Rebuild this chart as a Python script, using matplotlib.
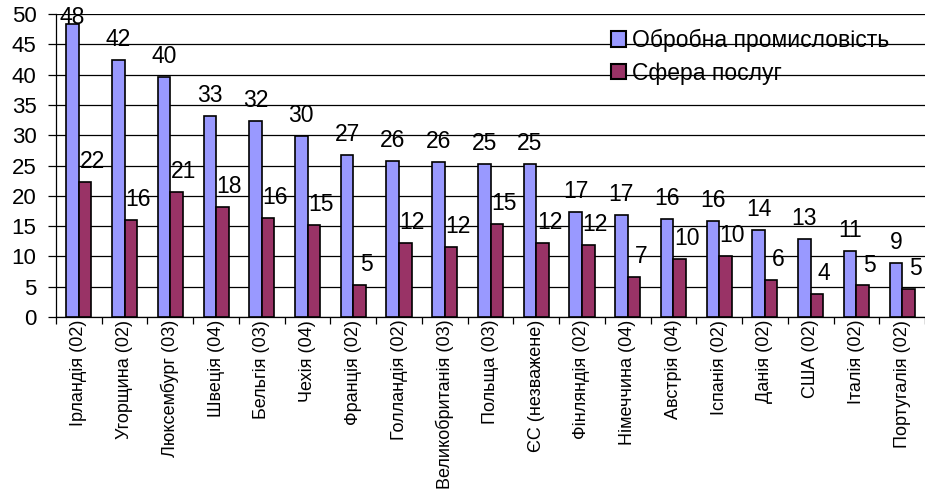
import matplotlib
matplotlib.use("Agg")
import matplotlib.pyplot as plt
from matplotlib.patches import Patch
import numpy as np

plt.rcParams['font.family'] = ['Liberation Sans', 'DejaVu Sans']

countries = ['Ірландія (02)', 'Угорщина (02)', 'Люксембург (03)', 'Швеція (04)',
             'Бельгія (03)', 'Чехія (04)', 'Франція (02)', 'Голландія (02)',
             'Великобританія (03)', 'Польща (03)', 'ЄС (незважене)', 'Фінляндія (02)',
             'Німеччина (04)', 'Австрія (04)', 'Іспанія (02)', 'Данія (02)',
             'США (02)', 'Італія (02)', 'Португалія (02)']
manufacturing = [48.4, 42.4, 39.6, 33.1, 32.4, 29.9, 26.8, 25.7, 25.6, 25.3,
                 25.2, 17.4, 16.9, 16.1, 15.9, 14.4, 12.8, 10.9, 8.9]
services = [22.3, 16.0, 20.7, 18.1, 16.3, 15.2, 5.3, 12.2, 11.6, 15.3,
            12.2, 11.9, 6.6, 9.5, 10.1, 6.1, 3.8, 5.2, 4.7]
series_names = ['Обробна промисловість', 'Сфера послуг']

blue = '#9999ff'
plum = '#993366'

fig = plt.figure(figsize=(9.25, 4.94), dpi=100)
ax = fig.add_axes([56 / 925, 177 / 494, 1 - 56 / 925, 303 / 494])

x = np.arange(len(countries))
w = 0.275
ax.bar(x - w / 2, manufacturing, w, color=blue, edgecolor='black', linewidth=1.2, zorder=3)
ax.bar(x + w / 2, services, w, color=plum, edgecolor='black', linewidth=1.2, zorder=3)

# value labels above bars, kept inside the chart at the top
for i in range(len(countries)):
    for v, dx, off in ((manufacturing[i], -w / 2, 0), (services[i], w / 2, 5)):
        ax.annotate('{:.0f}'.format(v), xy=(x[i] + dx, min(v + 2.3, 48.3)),
                    xytext=(off, 0), textcoords='offset points',
                    ha='center', va='baseline', fontsize=16.5, zorder=4)

ax.set_xlim(-0.5, len(countries) - 0.5)
ax.set_ylim(0, 50)
ax.set_yticks(np.arange(0, 51, 5))
ax.yaxis.grid(True, color='black', linewidth=0.9, zorder=0)
ax.tick_params(axis='y', labelsize=16, length=6, width=0.9, direction='out', pad=8)

ax.set_xticks(x)
ax.set_xticklabels(countries, rotation=90, fontsize=13)
ax.set_xticks(np.arange(-0.5, len(countries)), minor=True)
ax.tick_params(axis='x', which='major', length=0, pad=2)
ax.tick_params(axis='x', which='minor', length=5, width=0.9, direction='out')

for s in ('top', 'right'):
    ax.spines[s].set_visible(False)
ax.spines['left'].set_linewidth(0.9)
ax.spines['bottom'].set_linewidth(0.9)

handles = [Patch(facecolor=blue, edgecolor='black', linewidth=1.5),
           Patch(facecolor=plum, edgecolor='black', linewidth=1.5)]
fig.legend(handles, series_names, loc='upper left',
           bbox_to_anchor=(611 / 925, 1 - 29 / 494), frameon=False,
           fontsize=16.5, handlelength=0.65, handleheight=0.65,
           handletextpad=0.25, labelspacing=0.42, borderpad=0, borderaxespad=0)

fig.savefig('out.png', dpi=100)
